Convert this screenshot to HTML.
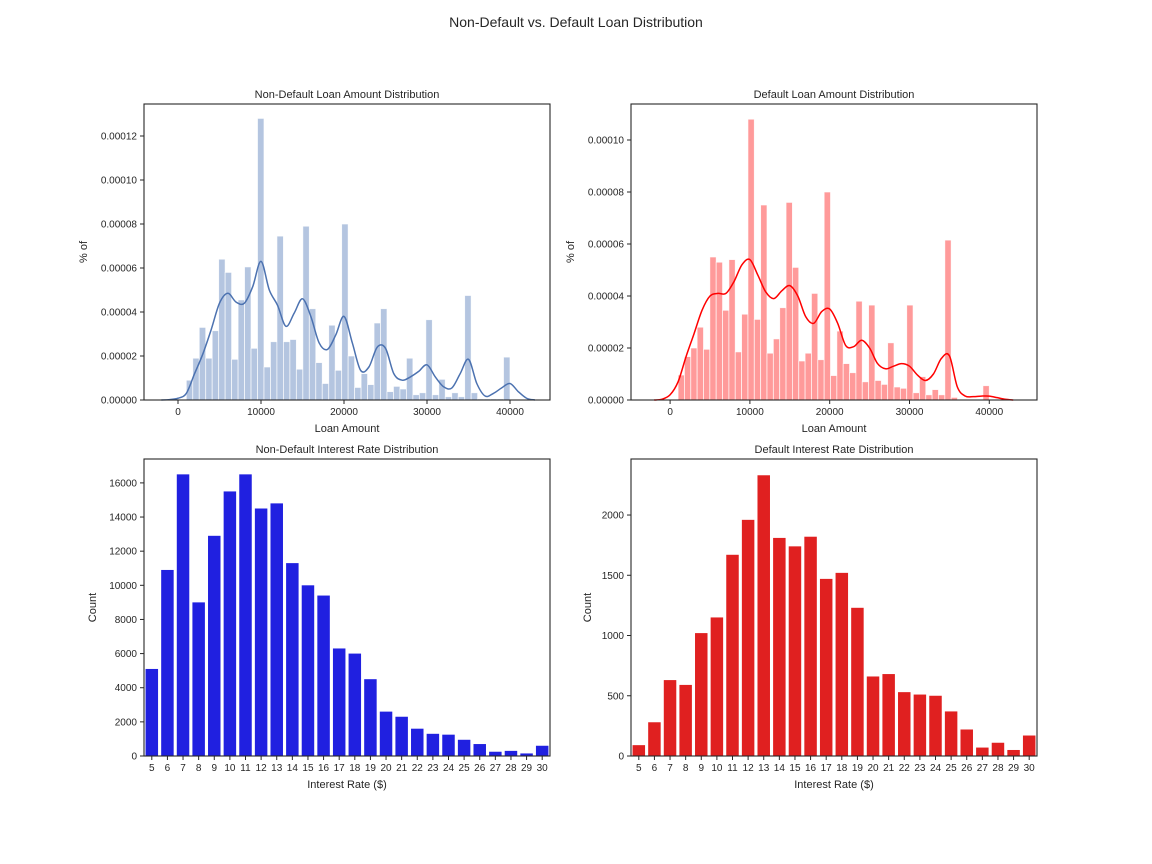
<!DOCTYPE html>
<html><head><meta charset="utf-8">
<style>
html,body{margin:0;padding:0;background:#fff;}
svg{display:block;font-family:"Liberation Sans","DejaVu Sans",sans-serif;}
</style></head>
<body>
<svg id="fig" width="1152" height="864" viewBox="0 0 1152 864">
<text x="576" y="27" text-anchor="middle" font-size="14" fill="#262626">Non-Default vs. Default Loan Distribution</text>
</svg>
<script>
// ---- data ----
const ndHistStart = 1000, ndHistEnd = 40000;
const ndHist = [0.9,1.9,3.3,1.9,3.15,6.4,5.8,1.85,4.55,6.05,2.35,12.8,1.5,2.65,7.45,2.65,2.75,1.4,7.9,4.15,1.7,0.75,3.4,1.35,8.0,2.0,0.57,1.2,0.7,3.5,4.15,0.38,0.62,0.5,1.9,0.24,0.33,3.65,0.24,0.94,0.15,0.33,0.15,4.75,0.33,0.05,0.05,0.05,0.05,1.95];
const kdeX = [-2000,-1000,0,1000,2000,3000,4000,5000,6000,7000,8000,9000,10000,11000,12000,13000,14000,15000,16000,17000,18000,19000,20000,21000,22000,23000,24000,25000,26000,27000,28000,29000,30000,31000,32000,33000,34000,35000,36000,37000,38000,39000,40000,41000,42000,43000];
const ndKde = [0,0.02,0.08,0.3,1.2,2.1,3.2,4.4,4.85,4.45,4.4,5.15,6.3,5.0,4.3,3.35,3.95,4.6,3.8,2.6,2.3,2.95,3.8,2.6,1.35,1.5,2.4,2.35,1.2,0.9,1.05,1.3,1.6,1.05,0.6,0.55,1.2,1.85,0.75,0.18,0.3,0.55,0.75,0.38,0.08,0];
const dHistStart = 1000, dHistEnd = 40000;
const dHist = [0.96,1.67,2.0,2.8,1.95,5.5,5.3,3.45,5.4,1.85,3.3,10.8,3.1,7.5,1.8,2.35,3.55,7.6,5.1,1.5,1.8,4.1,1.55,8.0,0.94,2.65,1.4,1.05,3.8,0.7,3.65,0.75,0.6,2.2,0.5,0.45,3.65,0.28,0.9,0.2,0.4,0.2,6.15,0.1,0.02,0.02,0.02,0.02,0.55];
const dKde = [0,0.03,0.2,0.7,1.67,2.55,3.45,4.0,4.1,4.1,4.55,5.2,5.4,4.8,4.15,3.9,4.2,4.4,4.0,3.2,2.95,3.4,3.5,2.95,2.1,2.05,2.3,2.0,1.4,1.2,1.3,1.4,1.3,0.96,0.75,1.0,1.6,1.7,0.5,0.15,0.13,0.15,0.15,0.09,0.03,0];
const rates = [5,6,7,8,9,10,11,12,13,14,15,16,17,18,19,20,21,22,23,24,25,26,27,28,29,30];
const ndCounts = [5100,10900,16500,9000,12900,15500,16500,14500,14800,11300,10000,9400,6300,6000,4500,2600,2300,1600,1300,1250,950,700,250,300,150,600];
const dCounts = [90,280,630,590,1020,1150,1670,1960,2330,1810,1740,1820,1470,1520,1230,660,680,530,510,500,370,220,70,110,50,170];
const hxTicks = [0,10000,20000,30000,40000];
const ndYTicks = [0,2,4,6,8,10,12];
const dYTicks = [0,2,4,6,8,10];
const ndCountTicks = [0,2000,4000,6000,8000,10000,12000,14000,16000];
const dCountTicks = [0,500,1000,1500,2000];

const NS = "http://www.w3.org/2000/svg";
const fig = document.getElementById('fig');
function mk(tag, attrs, parent){ const e=document.createElementNS(NS,tag); for(const k in attrs) e.setAttribute(k,attrs[k]); (parent||fig).appendChild(e); return e; }
const TXT="#262626";

function frame(g,L,T,R,B,title,xlab,ylab,ylabX){
  const t=mk('text',{x:(L+R)/2,y:T-6,'text-anchor':'middle','font-size':11,fill:TXT},g); t.textContent=title;
  
  
  const xl=mk('text',{x:(L+R)/2,y:B+32,'text-anchor':'middle','font-size':11,fill:TXT},g); xl.textContent=xlab;
  
  
  const yl=mk('text',{x:ylabX,y:(T+B)/2,'text-anchor':'middle','font-size':11,fill:TXT,transform:`rotate(-90 ${ylabX} ${(T+B)/2})`},g); yl.textContent=ylab;
  
  
}
function border(g,L,T,R,B){
  const r=mk('rect',{x:L,y:T,width:R-L,height:B-T,fill:'none',stroke:'#262626','stroke-width':1.1},g);
  
  
}
function yTick(g,L,y,label){
  mk('line',{x1:L-4,x2:L,y1:y,y2:y,stroke:'#262626'},g);
  const t=mk('text',{x:L-7,y:y+3.5,'text-anchor':'end','font-size':10,fill:TXT},g); t.textContent=label;
  
  
}
function xTick(g,x,B,label){
  mk('line',{x1:x,x2:x,y1:B,y2:B+4,stroke:'#262626'},g);
  const t=mk('text',{x:x,y:B+15,'text-anchor':'middle','font-size':10,fill:TXT},g); t.textContent=label;
  
  
}

function histPanel(name,L,T,R,B,x0,x1,yPerUnit,hist,hs,he,kde,yTicks,fillC,lineC,title,ylabX){
  const g=mk('g',{});
  
  
  const sx=v=>L+(v-x0)/(x1-x0)*(R-L);
  const sy=v=>B-v*yPerUnit;
  frame(g,L,T,R,B,title,'Loan Amount','% of',ylabX);
  const w=(he-hs)/hist.length;
  hist.forEach((v,i)=>{
    const a=sx(hs+i*w), b=sx(hs+(i+1)*w);
    const r=mk('rect',{x:a,y:sy(v),width:b-a,height:B-sy(v),fill:fillC,stroke:'#fff','stroke-width':0.8,'stroke-opacity':0.8},g);
    
    
  });
  const pts=kdeX.map((x,i)=>[sx(x),sy(kde[i])]);
  let d=`M${pts[0][0]},${pts[0][1]}`;
  for(let i=0;i<pts.length-1;i++){
    const p0=pts[Math.max(0,i-1)],p1=pts[i],p2=pts[i+1],p3=pts[Math.min(pts.length-1,i+2)];
    d+=` C${p1[0]+(p2[0]-p0[0])/6},${p1[1]+(p2[1]-p0[1])/6} ${p2[0]-(p3[0]-p1[0])/6},${p2[1]-(p3[1]-p1[1])/6} ${p2[0]},${p2[1]}`;
  }
  const p=mk('path',{d:d,fill:'none',stroke:lineC,'stroke-width':1.5},g);
  
  
  yTicks.forEach(v=>yTick(g,L,sy(v),(v*1e-5).toFixed(5)));
  hxTicks.forEach(v=>xTick(g,sx(v),B,String(v)));
  border(g,L,T,R,B);
}

function barPanel(name,L,T,R,B,maxV,counts,ticks,color,title,ylabX){
  const g=mk('g',{});
  
  
  const sy=v=>B-v/maxV*(B-T);
  const band=(R-L)/rates.length;
  frame(g,L,T,R,B,title,'Interest Rate ($)','Count',ylabX);
  counts.forEach((v,i)=>{
    const r=mk('rect',{x:L+band*i+band*0.1,y:sy(v),width:band*0.8,height:B-sy(v),fill:color},g);
    
    
  });
  ticks.forEach(v=>yTick(g,L,sy(v),String(v)));
  rates.forEach((r,i)=>xTick(g,L+band*(i+0.5),B,String(r)));
  border(g,L,T,R,B);
}

histPanel('non-default-loan-hist',144,104,550,400,-4096,44819,22,ndHist,ndHistStart,ndHistEnd,ndKde,ndYTicks,'#b4c5e0','#4c72b0','Non-Default Loan Amount Distribution',87);
histPanel('default-loan-hist',631,104,1037,400,-4900,45980,26,dHist,dHistStart,dHistEnd,dKde,dYTicks,'#ff9a9a','#ff0000','Default Loan Amount Distribution',574);
barPanel('non-default-rate-bars',144,459,550,756,17400,ndCounts,ndCountTicks,'#2020e0','Non-Default Interest Rate Distribution',96);
barPanel('default-rate-bars',631,459,1037,756,2465,dCounts,dCountTicks,'#e02020','Default Interest Rate Distribution',591);
</script>
</body></html>
